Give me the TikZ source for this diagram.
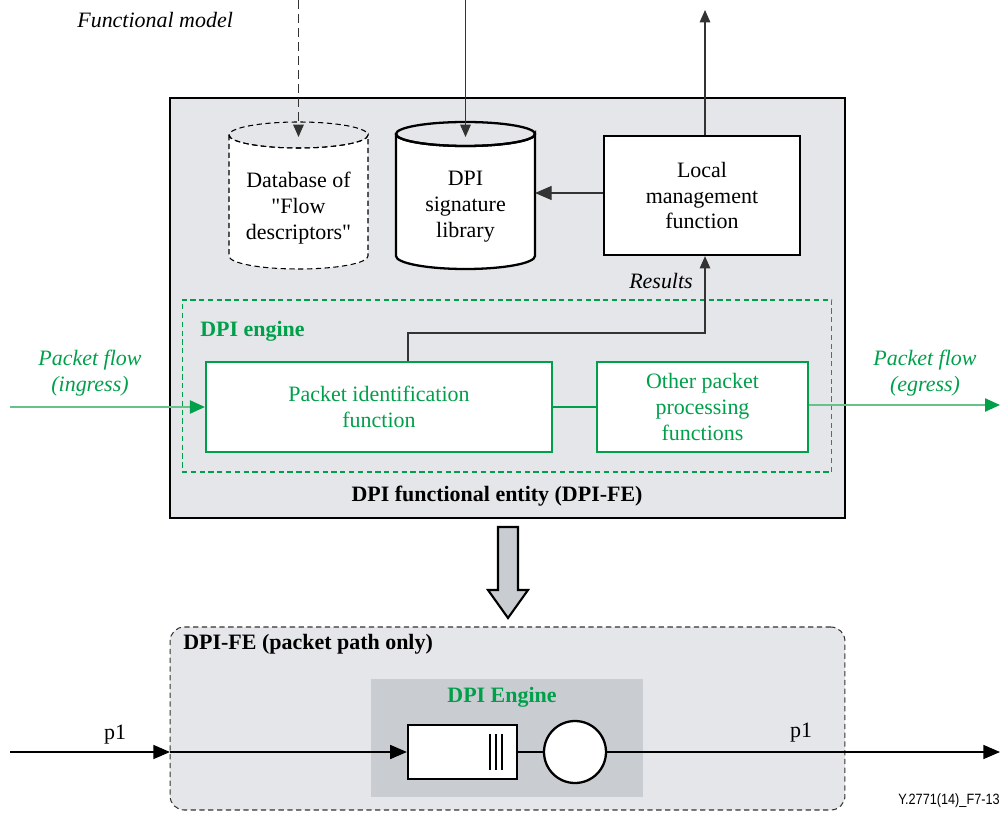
\documentclass[tikz,border=0pt]{standalone}
\usepackage{fontspec}
\setmainfont{Liberation Serif}
\newfontfamily\rawserif[Ligatures=TeXOff]{Liberation Serif}
\newfontfamily\figidfont[FakeStretch=0.85]{Liberation Sans}
\usetikzlibrary{arrows.meta}
\definecolor{panel}{HTML}{E5E6E9}
\definecolor{engfill}{HTML}{C9CCD1}
\definecolor{dpigreen}{HTML}{00A04B}
\definecolor{flowgreen}{HTML}{66C28A}
\definecolor{wire}{HTML}{333333}
\begin{document}
\begin{tikzpicture}[x=0.02cm,y=-0.02cm,
  font=\fontsize{12.5}{14.7}\selectfont,
  tip/.style={-{Triangle[length=9.5pt,width=8pt]}},
  smalltip/.style={-{Triangle[length=7pt,width=6pt]}},
  greentip/.style={-{Triangle[length=8.5pt,width=7.5pt,color=dpigreen]}},
  box/.style={draw, line width=1.3pt, fill=white, inner sep=0pt, align=center},
  gbox/.style={draw=dpigreen, line width=1.3pt, fill=white, text=dpigreen, inner sep=0pt, align=center},
  thinwire/.style={draw=wire, line width=0.6pt},
  lbl/.style={inner sep=0pt, align=center},
  cyl/.style={line width=1.3pt, fill=white},
  dcyl/.style={line width=0.6pt, fill=white, dash pattern=on 3pt off 2pt}]
\useasboundingbox (0,0) rectangle (1000,814);

% functional entity frame
\node[draw, line width=1.4pt, fill=panel, minimum width=13.5cm, minimum height=8.4cm] (fe) at (507.5,308) {};
\node[lbl, font=\fontsize{12.5}{14.7}\selectfont\bfseries] (felbl) at (497,496) {DPI functional entity (DPI-FE)};
\node[lbl, anchor=west, font=\fontsize{12.5}{14.7}\selectfont\itshape] (fmodel) at (77,20) {Functional model};

% dashed database cylinder
\draw[dcyl] (229,135) -- (229,256) arc (180:0:69.5 and 13) -- (368,135) arc (0:180:69.5 and 13) -- cycle;
\draw[dcyl, fill=none] (298.5,135) ellipse (69.5 and 13);
\node[lbl, font=\rawserif\fontsize{12.5}{14.7}\selectfont] (flowdb) at (298.5,208) {Database of\\"Flow\\descriptors"};
\coordinate (flowdbtop) at (298.5,137);

% signature library cylinder
\draw[cyl] (396,134) -- (396,256) arc (180:0:69.5 and 13) -- (535,134) arc (0:180:69.5 and 12) -- cycle;
\draw[cyl, fill=none] (465.5,134) ellipse (69.5 and 12);
\node[lbl] (siglib) at (465.5,207) {DPI\\signature\\library};
\coordinate (siglibtop) at (465.5,137);
\coordinate (siglibright) at (535,193);

% local management function
\node[box, minimum width=3.92cm, minimum height=2.38cm] (lmf) at (702,195.5) {Local\\management\\function};

% DPI engine
\node[draw=dpigreen, line width=0.6pt, dash pattern=on 3pt off 2pt, minimum width=13cm, minimum height=3.44cm] (engine) at (507,386) {};
\node[lbl, anchor=west, text=dpigreen, font=\fontsize{12.5}{14.7}\selectfont\bfseries] (englbl) at (200,331) {DPI engine};
\node[gbox, minimum width=6.92cm, minimum height=1.8cm] (pif) at (379,407) {Packet identification\\function};
\node[gbox, minimum width=4.22cm, minimum height=1.8cm] (opp) at (702.5,407) {Other packet\\processing\\functions};
\draw[dpigreen, line width=1.6pt] (pif.east) -- (opp.west);

% external interfaces
\coordinate (topdash) at (298.5,0);
\coordinate (topsig) at (465.5,0);
\coordinate (mgmtout) at (705,10);
\coordinate (resbend) at (705,333);
\draw[thinwire, smalltip, dash pattern=on 5pt off 3pt] (topdash) -- (flowdbtop);
\draw[thinwire, smalltip] (topsig) -- (siglibtop);
\draw[thinwire, smalltip] (lmf.north -| mgmtout) -- (mgmtout);
\draw[thinwire, tip] (lmf.west |- siglibright) -- (siglibright);
\draw[thinwire, smalltip] (pif.north -| 408,0) |- (resbend) -- (lmf.south -| resbend);
\node[lbl, font=\fontsize{12.5}{14.7}\selectfont\itshape] (results) at (661,281) {Results};

% packet flow
\coordinate (ingress) at (10,407);
\coordinate (egress) at (1000,405);
\draw[flowgreen, line width=0.9pt, greentip] (ingress) -- (pif.west);
\draw[flowgreen, line width=0.9pt, greentip] (opp.east |- egress) -- (egress);
\node[lbl, text=dpigreen, font=\fontsize{12.5}{14.7}\selectfont\itshape] (inlbl) at (90,373) {Packet flow\\(ingress)};
\node[lbl, text=dpigreen, font=\fontsize{12.5}{14.7}\selectfont\itshape] (outlbl) at (925,373) {Packet flow\\(egress)};

% transition arrow
\draw[line width=1.2pt, fill=engfill] (498,527) -- (518,527) -- (518,590) -- (528,590) -- (508,618) -- (488,590) -- (498,590) -- cycle;

% packet path only view
\node[draw=wire, line width=0.6pt, dash pattern=on 3pt off 2pt, rounded corners=8pt, fill=panel, minimum width=13.5cm, minimum height=3.66cm] (fepath) at (507.5,718.5) {};
\node[lbl, anchor=west, font=\fontsize{12.5}{14.7}\selectfont\bfseries] (fepathlbl) at (183,644) {DPI-FE (packet path only)};
\node[fill=engfill, minimum width=5.44cm, minimum height=2.36cm] (engpath) at (507,738) {};
\node[lbl, text=dpigreen, font=\fontsize{12.5}{14.7}\selectfont\bfseries] (engpathlbl) at (502,697) {DPI Engine};
\node[box, minimum width=2.18cm, minimum height=1.08cm] (queue) at (462.5,752) {};
\draw[line width=1.1pt] (490,734) -- (490,770) (496,734) -- (496,770) (502,734) -- (502,770);
\node[draw, line width=1.3pt, fill=white, circle, minimum size=1.24cm, inner sep=0pt] (server) at (575,752) {};
\draw[line width=1.6pt] (queue.east) -- (server.west);
\coordinate (pin) at (10,752);
\coordinate (pborder) at (170,752);
\coordinate (pout) at (1000,752);
\draw[line width=0.8pt, tip] (pin) -- (pborder);
\draw[line width=0.8pt, tip] (pborder) -- (queue.west);
\draw[line width=0.8pt, tip] (server.east) -- (pout);
\node[lbl] (p1in) at (115,735) {p1};
\node[lbl] (p1out) at (801,733) {p1};
\node[lbl, anchor=east, font=\figidfont\fontsize{8.5}{10}\selectfont] (figid) at (1000,801) {Y.2771(14)\_F7-13};
\end{tikzpicture}
\end{document}
